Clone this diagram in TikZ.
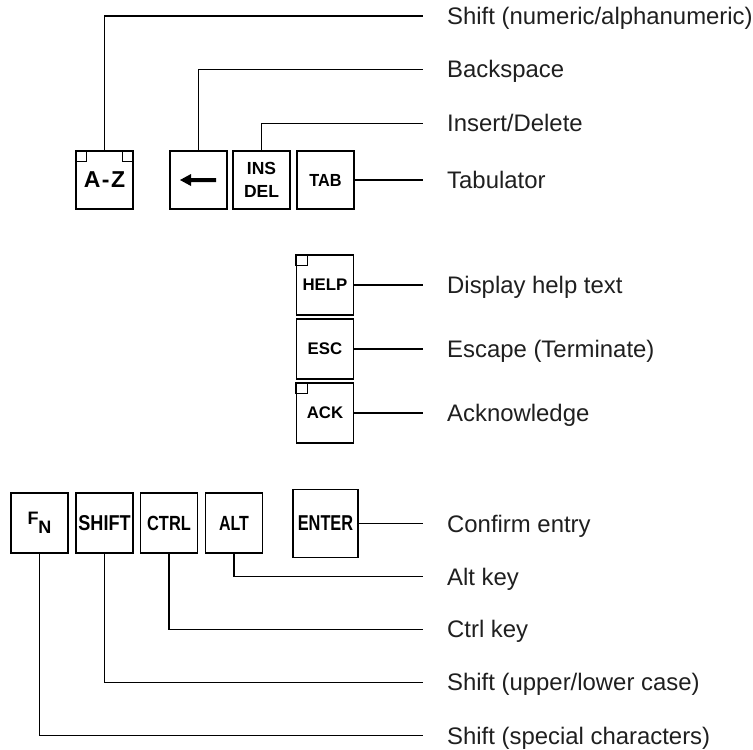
\documentclass[tikz,border=0pt]{standalone}
\usepackage{fontspec}
\setmainfont{Liberation Sans}
\usepackage{graphicx}
\begin{document}
\begin{tikzpicture}[x=1pt,y=-1pt,
  key/.style={draw, line width=1.6pt, minimum width=57pt, minimum height=58pt, inner sep=0pt,
    font=\bfseries\fontsize{17.5}{17.5}\selectfont},
  tallkey/.style={key, minimum height=60pt},
  lbl/.style={anchor=west, inner xsep=24pt, inner ysep=0pt, text height=17pt, text depth=0pt,
    font=\fontsize{23.9}{24}\selectfont, text=black!88},
  conn/.style={line width=1.1pt},
  tick/.style={draw, line width=1.3pt}]
\useasboundingbox (0,0) rectangle (753,750);

% top row keys
\node[key, font=\bfseries\fontsize{23}{23}\selectfont] (az) at (104.5,180) {\raisebox{-1.5pt}{A\kern1.5pt-\kern1.5pt Z}};
\node[key] (bs) at (198.5,180) {};
\node[key, align=center, font=\bfseries\fontsize{17.5}{17.5}\selectfont] (ins) at (261.5,180) {INS\\[5.5pt]DEL};
\node[key] (tab) at (325.5,180) {\scalebox{0.93}[1]{TAB}};

% column keys
\node[tallkey, font=\bfseries\fontsize{16.8}{16.8}\selectfont] (help) at (325,285) {HELP};
\node[tallkey, font=\bfseries\fontsize{16.8}{16.8}\selectfont] (esc) at (325,349) {ESC};
\node[tallkey, font=\bfseries\fontsize{16.8}{16.8}\selectfont] (ack) at (325,413) {ACK};

% bottom row keys
\node[tallkey, font=\bfseries\fontsize{18}{18}\selectfont] (fn) at (39.5,523) {\raisebox{-2pt}{F\raisebox{-9pt}{N}}};
\node[tallkey, font=\bfseries\fontsize{21.5}{21.5}\selectfont] (shift) at (104.5,523) {\scalebox{0.84}[1]{SHIFT}};
\node[tallkey, font=\bfseries\fontsize{20.5}{20.5}\selectfont] (ctrl) at (169,523) {\scalebox{0.8}[1]{CTRL}};
\node[tallkey, font=\bfseries\fontsize{20.5}{20.5}\selectfont] (alt) at (234,523) {\scalebox{0.78}[1]{ALT}};
\node[key, minimum width=65pt, minimum height=68pt, font=\bfseries\fontsize{21.5}{21.5}\selectfont] (enter) at (325.5,523.5) {\scalebox{0.76}[1]{ENTER}};

% corner marks
\draw[tick] (az.north west) rectangle ++(11.5,11.5);
\draw[tick] (az.north east) rectangle ++(-11.5,11.5);
\draw[tick] (help.north west) rectangle ++(11.5,11.5);
\draw[tick] (ack.north west) rectangle ++(11.5,11.5);

% backspace arrow
\fill ([xshift=-18.5pt]bs.center) -- ++(11,-6) -- ++(0,4) -- ++(25,0) -- ++(0,4) -- ++(-25,0) -- ++(0,4) -- cycle;

% labels
\node[lbl] (l1) at (423,16) {Shift (numeric/alphanumeric)};
\node[lbl] (l2) at (423,69.3) {Backspace};
\node[lbl] (l3) at (423,123.3) {Insert/Delete};
\node[lbl] (l4) at (423,180) {Tabulator};
\node[lbl] (l5) at (423,285) {Display help text};
\node[lbl] (l6) at (423,349) {Escape (Terminate)};
\node[lbl] (l7) at (423,413) {Acknowledge};
\node[lbl] (l8) at (423,523.5) {Confirm entry};
\node[lbl] (l9) at (423,576.7) {Alt key};
\node[lbl] (l10) at (423,629.3) {Ctrl key};
\node[lbl] (l11) at (423,682.3) {Shift (upper/lower case)};
\node[lbl] (l12) at (423,735.7) {Shift (special characters)};

% connectors
\draw[conn] (az.north) |- (l1.west);
\draw[conn] (bs.north) |- (l2.west);
\draw[conn] (ins.north) |- (l3.west);
\draw[conn] (tab.east) -- (l4.west);
\draw[conn] (help.east) -- (l5.west);
\draw[conn] (esc.east) -- (l6.west);
\draw[conn] (ack.east) -- (l7.west);
\draw[conn] (enter.east) -- (l8.west);
\draw[conn] (alt.south) |- (l9.west);
\draw[conn] (ctrl.south) |- (l10.west);
\draw[conn] (shift.south) |- (l11.west);
\draw[conn] (fn.south) |- (l12.west);
\end{tikzpicture}
\end{document}
